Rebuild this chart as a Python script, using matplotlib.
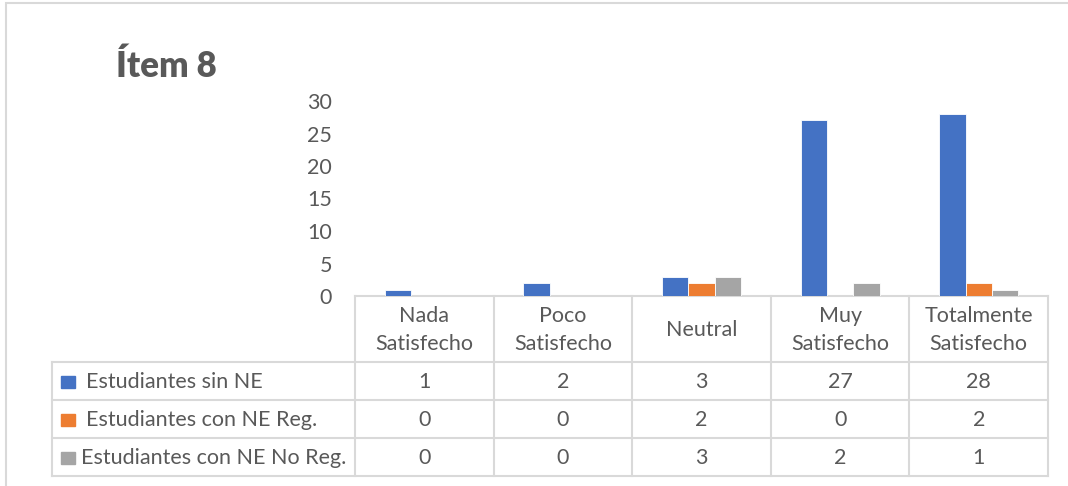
import matplotlib
matplotlib.use("Agg")
import matplotlib.pyplot as plt
from matplotlib.patches import Rectangle

categories = ["Nada\nSatisfecho", "Poco\nSatisfecho", "Neutral", "Muy\nSatisfecho", "Totalmente\nSatisfecho"]
series_names = ["Estudiantes sin NE", "Estudiantes con NE Reg.", "Estudiantes con NE No Reg."]
sin_ne = [1, 2, 3, 27, 28]
con_ne_reg = [0, 0, 2, 0, 2]
con_ne_no_reg = [0, 0, 3, 2, 1]
series = [sin_ne, con_ne_reg, con_ne_no_reg]
colors = ["#4472C4", "#ED7D31", "#A5A5A5"]
text_color = "#595959"
line_color = "#D9D9D9"

plt.rcParams["font.family"] = ["Lato", "DejaVu Sans"]
fs = 15.5

W, H = 1068, 486
fig = plt.figure(figsize=(W / 100, H / 100), dpi=100)

# outer chart border
fig.patches.append(Rectangle((6 / W, -0.2), 1.2, 1.2 - 3 / H, transform=fig.transFigure,
                             fill=False, edgecolor=line_color, lw=1.5))

fig.text(116 / W, 1 - 66 / H, "Ítem 8", fontsize=25, fontweight="heavy",
         color=text_color, va="center", ha="left")

# plot area
left, right, top, bottom = 355, 1048, 101, 296
ax = fig.add_axes([left / W, 1 - bottom / H, (right - left) / W, (bottom - top) / H])
n = len(categories)
bw = 0.19
for i, (vals, c) in enumerate(zip(series, colors)):
    xs = [k + (i - 1) * bw for k in range(n)]
    ax.bar(xs, vals, width=bw, color=c, edgecolor="white", linewidth=0.6, zorder=3)
ax.set_xlim(-0.5, n - 0.5)
ax.set_ylim(0, 30)
ax.set_yticks(range(0, 31, 5))
ax.set_xticks([])
ax.tick_params(axis="y", length=0, pad=16.5, labelsize=fs, labelcolor=text_color)
for s in ["top", "right", "left"]:
    ax.spines[s].set_visible(False)
ax.spines["bottom"].set_color(line_color)
ax.spines["bottom"].set_linewidth(1.5)

# data table
tx0, tx1, ty0, ty1 = 52, 1048, 296, 476
tab = fig.add_axes([tx0 / W, 1 - ty1 / H, (tx1 - tx0) / W, (ty1 - ty0) / H])
tab.set_xlim(tx0, tx1)
tab.set_ylim(ty1, ty0)
tab.axis("off")
colw = (right - left) / n
header_bottom = 362
row_h = (ty1 - header_bottom) / len(series)
lk = dict(color=line_color, lw=1.5, clip_on=False)
for k in range(n + 1):
    x = left + k * colw
    tab.plot([x, x], [ty0, ty1], **lk)
tab.plot([tx0, tx0], [header_bottom, ty1], **lk)
for r in range(len(series) + 1):
    y = header_bottom + r * row_h
    tab.plot([tx0, tx1], [y, y], **lk)

for k, cat in enumerate(categories):
    tab.text(left + (k + 0.5) * colw, (ty0 + header_bottom) / 2 + 1, cat, ha="center", va="center",
             fontsize=fs, color=text_color, linespacing=1.5)

text_x = [86, 86, 81]
for r, (name, vals, c) in enumerate(zip(series_names, series, colors)):
    yc = header_bottom + (r + 0.5) * row_h
    tab.add_patch(Rectangle((61, yc - 5), 14, 12, color=c, clip_on=False))
    tab.text(text_x[r], yc + 1, name, ha="left", va="center", fontsize=fs, color=text_color)
    for k, v in enumerate(vals):
        tab.text(left + (k + 0.5) * colw, yc + 1, str(v), ha="center", va="center",
                 fontsize=fs, color=text_color)

fig.savefig("out.png", dpi=100)
